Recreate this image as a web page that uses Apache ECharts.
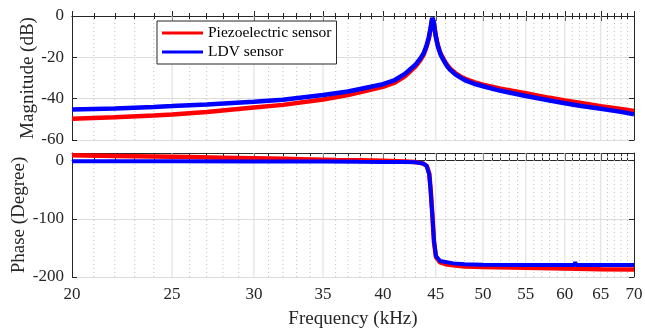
<!DOCTYPE html>
<html><head><meta charset="utf-8">
<script src="https://cdn.jsdelivr.net/npm/echarts@6/dist/echarts.min.js"></script>
<style>html,body{margin:0;padding:0;background:#fff}#c{width:645px;height:328px}</style>
</head><body><div id="c"></div>
<script>
// ---- data ----
const majorTicks = [20,25,30,35,40,45,50,55,60,65,70];
const minorTicks = [21,22,23,24,26,27,28,29,31,32,33,34,36,37,38,39,41,42,43,44,46,47,48,49,51,52,53,54,56,57,58,59,61,62,63,64,66,67,68,69];
const magTicks = [-60,-40,-20,0];
const phaseTicks = [-200,-100,0];

const magFreq  = [20,22,24,25,27,30,32,35,37,40,41,42,43,43.5,43.8,44,44.1,44.3,44.5,44.6,44.65,44.7,44.75,44.8,44.9,45.0,45.1,45.2,45.35,45.5,45.8,46.0,46.2,46.5,47,47.5,48,49,50,52,55,58,60,62,65,68,70];
const magPiezo = [-49.7,-49.0,-48.2,-47.7,-46.5,-44.3,-43.0,-40.4,-38.3,-34.3,-32.4,-29.2,-24.5,-21.2,-18.8,-16.0,-14.6,-11.0,-5.8,-2.5,-1.2,-0.3,-1.3,-3.0,-6.5,-9.5,-11.9,-14.0,-16.3,-18.3,-21.0,-22.6,-24.0,-25.6,-27.6,-29.1,-30.3,-32.0,-33.2,-35.2,-37.4,-39.6,-40.9,-42.0,-43.6,-45.0,-46.0];
const magLdv   = [-45.2,-44.8,-44.0,-43.6,-42.8,-41.5,-40.5,-38.2,-36.5,-33.0,-31.2,-28.0,-23.6,-20.4,-18.0,-15.4,-14.0,-10.6,-5.3,-2.2,-0.9,0,-1.2,-3.0,-6.8,-9.8,-12.2,-14.4,-16.7,-18.8,-21.5,-23.1,-24.6,-26.2,-28.2,-29.7,-31.0,-32.8,-34.0,-36.2,-38.7,-40.9,-42.2,-43.4,-44.9,-46.4,-47.6];

const phPiezoFreq = [20,22,24,26,28,30,32,34,36,38,40,42,43,43.45,43.8,44.1,44.35,44.49,44.65,44.82,45.02,45.43,46.0,46.8,48,50,55,60,65,70];
const phPiezo     = [9,8,7,6,5,4,3,2,1,0.5,-0.5,-1.5,-2.5,-4,-5.5,-9,-22,-50,-92,-140,-166,-175,-178,-180,-182,-183,-184,-185.5,-186.5,-187];
const phLdvFreq   = [20,25,30,35,38,40,42,43,43.45,43.8,44.1,44.35,44.49,44.65,44.82,45.02,45.43,46.8,48,50,55,61.3,61.4,61.5,65,70];
const phLdv       = [-1,-1.2,-1.5,-1.8,-2.2,-2.3,-2.6,-3,-4,-5.5,-9.6,-24,-52,-92,-138,-164,-172.6,-176.6,-178,-179,-179.5,-179.5,-174,-179.5,-179.5,-179.5];

const names = ['Piezoelectric sensor','LDV sensor'];

// ---- chart ----
const FONT = 'Liberation Serif';
const AX = '#262626';
const zip = (a,b) => a.map((v,i)=>[v,b[i]]);

function xAxes(g, showLabels) {
  const base = {type:'log', logBase:10, min:20, max:70, gridIndex:g, splitLine:{show:false}};
  return [
    Object.assign({}, base, {position:'bottom',
      axisLine:{show:true, lineStyle:{color:AX, width:1}},
      axisTick:{show:true, inside:true, length:5, customValues:majorTicks, lineStyle:{color:AX}},
      axisLabel:{show:showLabels, customValues:majorTicks, margin:9, color:'#262626', fontFamily:FONT, fontSize:17},
      name: showLabels ? 'Frequency (kHz)' : '', nameLocation:'middle', nameGap:33, nameMoveOverlap:false,
      nameTextStyle:{fontFamily:FONT, fontSize:19, color:'#262626'}
    }),
    Object.assign({}, base, {position:'bottom',
      axisLine:{show:false},
      axisTick:{show:true, inside:true, length:3, customValues:minorTicks, lineStyle:{color:AX}},
      axisLabel:{show:false}
    }),
    Object.assign({}, base, {position:'top',
      axisLine:{show:true, lineStyle:{color:AX, width:1}},
      axisTick:{show:true, inside:true, length:5, customValues:majorTicks, lineStyle:{color:AX}},
      axisLabel:{show:false}
    }),
    Object.assign({}, base, {position:'top',
      axisLine:{show:false},
      axisTick:{show:true, inside:true, length:3, customValues:minorTicks, lineStyle:{color:AX}},
      axisLabel:{show:false}
    })
  ];
}

function yAxes(g, min, max, ticks, name, gap) {
  return [
    {type:'value', gridIndex:g, min:min, max:max, position:'left',
     axisLine:{show:true, lineStyle:{color:AX, width:1}},
     axisTick:{show:true, inside:true, length:5, customValues:ticks, lineStyle:{color:AX}},
     axisLabel:{customValues:ticks, margin:8, color:'#262626', fontFamily:FONT, fontSize:17},
     splitLine:{show:true, lineStyle:{color:'#dcdcdc', width:1}},
     name:name, nameLocation:'middle', nameGap:gap, nameMoveOverlap:false,
     nameTextStyle:{fontFamily:FONT, fontSize:19, color:'#262626'}},
    {type:'value', gridIndex:g, min:min, max:max, position:'right',
     axisLine:{show:true, lineStyle:{color:AX, width:1}},
     axisTick:{show:true, inside:true, length:5, customValues:ticks, lineStyle:{color:AX}},
     axisLabel:{show:false}, splitLine:{show:false}}
  ];
}

// vertical grid lines drawn through the axis scales
function gridSeries(xIdx, yIdx, ymin, ymax, ticks, style) {
  return {
    type:'custom', xAxisIndex:xIdx, yAxisIndex:yIdx, silent:true, z:1,
    data: ticks.map(v => [v]),
    renderItem: function (params, api) {
      const v = api.value(0);
      const p1 = api.coord([v, ymin]);
      const p2 = api.coord([v, ymax]);
      return {type:'line', shape:{x1:p1[0], y1:p1[1], x2:p2[0], y2:p2[1]}, style:style};
    }
  };
}
const majorStyle = {stroke:'#dcdcdc', lineWidth:1};
const minorStyle = {stroke:'#bfbfbf', lineWidth:1, lineDash:[1,3]};

const chart = echarts.init(document.getElementById('c'), null, {renderer:'canvas'});
chart.setOption({
  animation:false,
  backgroundColor:'#ffffff',
  grid:[
    {left:72, top:16, width:562, height:124, outerBoundsMode:'none', containLabel:false},
    {left:72, top:153, width:562, height:124, outerBoundsMode:'none', containLabel:false}
  ],
  legend:{
    orient:'vertical', left:157, top:21, data:names,
    icon:'rect', itemWidth:41, itemHeight:3, itemGap:3,
    padding:[4,5,4,5], borderColor:'#262626', borderWidth:1, backgroundColor:'#ffffff',
    textStyle:{fontFamily:FONT, fontSize:15.5, color:'#000', lineHeight:15}
  },
  xAxis:[...xAxes(0,false), ...xAxes(1,true)],
  yAxis:[...yAxes(0,-60,0,magTicks,'Magnitude (dB)',34), ...yAxes(1,-200,13,phaseTicks,'Phase (Degree)',43)],
  series:[
    gridSeries(0,0,-60,0,minorTicks,minorStyle),
    gridSeries(0,0,-60,0,majorTicks.slice(1,-1),majorStyle),
    gridSeries(4,2,-200,13,minorTicks,minorStyle),
    gridSeries(4,2,-200,13,majorTicks.slice(1,-1),majorStyle),
    {name:names[0], type:'line', z:3, xAxisIndex:0, yAxisIndex:0, data:zip(magFreq,magPiezo), showSymbol:false, lineStyle:{color:'#ff0000', width:4.5}, itemStyle:{color:'#ff0000'}},
    {name:names[1], type:'line', z:3, xAxisIndex:0, yAxisIndex:0, data:zip(magFreq,magLdv), showSymbol:false, lineStyle:{color:'#0000ff', width:4.5}, itemStyle:{color:'#0000ff'}},
    {name:names[0], type:'line', z:3, xAxisIndex:4, yAxisIndex:2, data:zip(phPiezoFreq,phPiezo), showSymbol:false, lineStyle:{color:'#ff0000', width:4.5}, itemStyle:{color:'#ff0000'}},
    {name:names[1], type:'line', z:3, xAxisIndex:4, yAxisIndex:2, data:zip(phLdvFreq,phLdv), showSymbol:false, lineStyle:{color:'#0000ff', width:4}, itemStyle:{color:'#0000ff'}}
  ]
});
</script></body></html>
